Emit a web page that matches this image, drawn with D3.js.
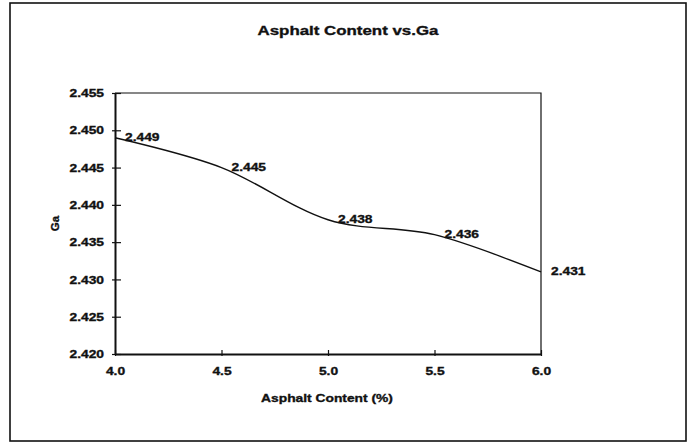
<!DOCTYPE html>
<html>
<head>
<meta charset="utf-8">
<script src="https://cdn.jsdelivr.net/npm/d3@7"></script>
<style>
  html, body { margin: 0; padding: 0; background: #fff; }
  svg { display: block; font-family: "Liberation Sans", Arial, sans-serif; }
</style>
</head>
<body>
<svg id="chart" width="698" height="444"></svg>
<script>
// Asphalt content (%) against Ga
const asphaltContent = [4.0, 4.5, 5.0, 5.5, 6.0];
const gaValues = [2.449, 2.445, 2.438, 2.436, 2.431];
const xTicks = [4.0, 4.5, 5.0, 5.5, 6.0];
const yTicks = [2.420, 2.425, 2.430, 2.435, 2.440, 2.445, 2.450, 2.455];

const chartTitle = "Asphalt Content vs.Ga";
const xTitle = "Asphalt Content (%)";
const yTitle = "Ga";

const svg = d3.select("#chart");
const ink = "#111";

// widen glyphs horizontally by factor k
function widen(sel, k) {
  sel.each(function () {
    const len = this.getComputedTextLength();
    d3.select(this).attr("textLength", len * k).attr("lengthAdjust", "spacingAndGlyphs");
  });
}
function heavy(sel, size) {
  sel.attr("font-size", size).attr("font-weight", "bold")
    .attr("fill", ink).attr("stroke", ink).attr("stroke-width", 0.35)
    .attr("font-family", "Liberation Sans, Arial, sans-serif");
}

// chart frame
svg.append("rect")
  .attr("x", 10).attr("y", 3).attr("width", 676).attr("height", 438)
  .attr("fill", "none").attr("stroke", ink).attr("stroke-width", 1.6);

const plot = { left: 115, right: 541, top: 93, bottom: 354 };

const x = d3.scaleLinear().domain([4.0, 6.0]).range([plot.left, plot.right]);
const y = d3.scaleLinear().domain([2.420, 2.455]).range([plot.bottom, plot.top]);

// plot area border (top and right)
svg.append("path")
  .attr("d", `M${plot.left},${plot.top}H${plot.right}V${plot.bottom}`)
  .attr("fill", "none").attr("stroke", ink).attr("stroke-width", 1.2);

// title
const title = svg.append("text")
  .attr("x", 348).attr("y", 35)
  .attr("text-anchor", "middle")
  .text(chartTitle);
heavy(title, 13.5);
widen(title, 1.25);

// y axis
const yAxis = d3.axisLeft(y)
  .tickValues(yTicks)
  .tickFormat(d3.format(".3f"))
  .tickSizeInner(3).tickSizeOuter(0).tickPadding(8);
const gy = svg.append("g").attr("transform", `translate(${plot.left},0)`).call(yAxis);
gy.select(".domain").attr("stroke", ink).attr("stroke-width", 2);
gy.selectAll(".tick line").attr("stroke", ink).attr("stroke-width", 1.2).attr("x2", 6).attr("x1", -3);
heavy(gy.selectAll(".tick text"), 11.5);
widen(gy.selectAll(".tick text"), 1.2);

// x axis
const xAxis = d3.axisBottom(x)
  .tickValues(xTicks)
  .tickFormat(d3.format(".1f"))
  .tickSizeInner(3).tickSizeOuter(0).tickPadding(10);
const gx = svg.append("g").attr("transform", `translate(0,${plot.bottom})`).call(xAxis);
gx.select(".domain").attr("stroke", ink).attr("stroke-width", 2);
gx.selectAll(".tick line").attr("stroke", ink).attr("stroke-width", 1.2).attr("y1", -4).attr("y2", 2);
heavy(gx.selectAll(".tick text"), 11.5);
widen(gx.selectAll(".tick text"), 1.2);

// axis titles
const xt = svg.append("text")
  .attr("x", 327).attr("y", 402)
  .attr("text-anchor", "middle")
  .text(xTitle);
heavy(xt, 11.5);
widen(xt, 1.2);

const yt = svg.append("text")
  .attr("transform", `translate(59,${(plot.top + plot.bottom) / 2}) rotate(-90)`)
  .attr("text-anchor", "middle")
  .text(yTitle);
heavy(yt, 11.5);

// smoothed series line
const points = asphaltContent.map((a, i) => ({ a, g: gaValues[i] }));
const line = d3.line()
  .x(d => x(d.a))
  .y(d => y(d.g))
  .curve(d3.curveCardinal.tension(0));

svg.append("path")
  .datum(points)
  .attr("d", line)
  .attr("fill", "none")
  .attr("stroke", ink)
  .attr("stroke-width", 1.4);

// data labels
const labels = svg.selectAll(".value-label")
  .data(points)
  .enter().append("text")
  .attr("class", "value-label")
  .attr("x", d => x(d.a) + 10)
  .attr("y", d => y(d.g) - 1)
  .attr("dy", "0.35em")
  .text(d => d3.format(".3f")(d.g));
heavy(labels, 11.5);
widen(labels, 1.2);
</script>
</body>
</html>
